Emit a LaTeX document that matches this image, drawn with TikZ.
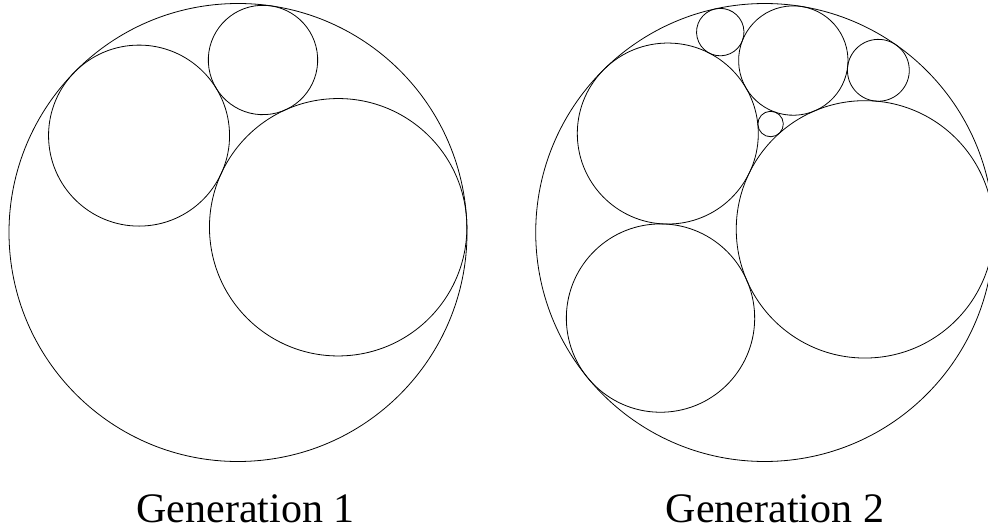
\documentclass[tikz,border=0pt]{standalone}
\usepackage{fontspec}
\setmainfont{Liberation Serif}

\tikzset{
  gasket/.style={line width=0.8pt},
  caption/.style={font=\fontsize{42}{48}\selectfont, anchor=base}
}

\begin{document}
\begin{tikzpicture}[x=1pt, y=1pt]
  \useasboundingbox (0,0) rectangle (988,531);

  % Left: first generation (outer circle and three tangent circles)
  \begin{scope}[shift={(238,298.5)}, scale=229, rotate=3, gasket]
    \foreach \cx/\cy/\r in {0/0/1, 0.438/0/0.562, -0.40937/0.44518/0.3952, 0.14841/0.74660/0.23880}
      \draw (\cx,\cy) circle (\r);
  \end{scope}
  \node[caption] (gen1) at (245.5,8.3) {Generation 1};

  % Right: second generation
  \begin{scope}[shift={(764.7,298.5)}, scale=229, rotate=1.8, gasket]
    \foreach \cx/\cy/\r in {0/0/1, 0.438/0/0.562, -0.40937/0.44518/0.3952, 0.14841/0.74660/0.23880}
      \draw (\cx,\cy) circle (\r);
    % one new circle in each gap
    \foreach \cx/\cy/\r in {-0.46652/-0.35924/0.41122, -0.16653/0.88083/0.10356, 0.51833/0.69243/0.13507, 0.04057/0.47269/0.05557}
      \draw (\cx,\cy) circle (\r);
  \end{scope}
  \node[caption] (gen2) at (775,8.3) {Generation 2};
\end{tikzpicture}
\end{document}
